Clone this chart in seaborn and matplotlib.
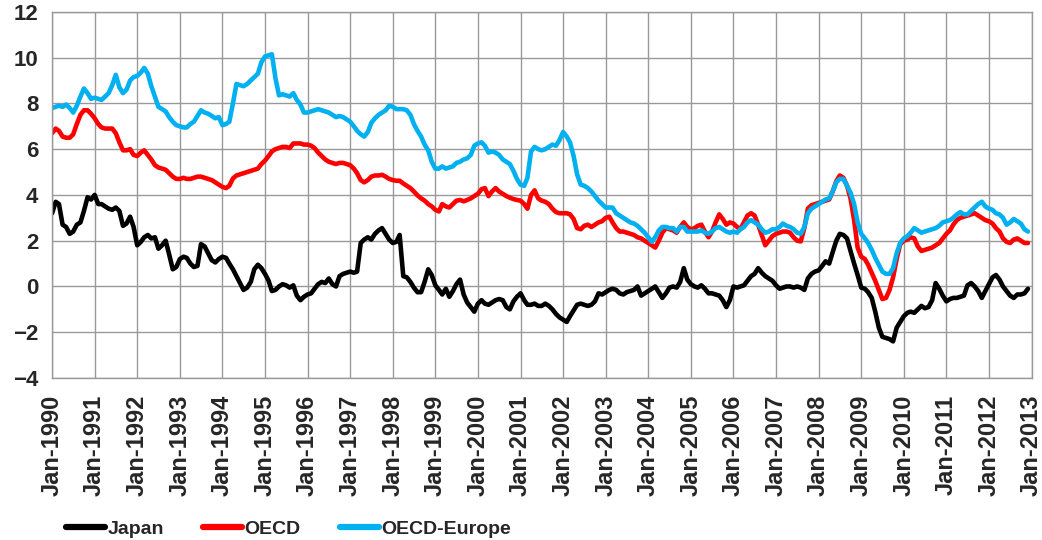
import pandas as pd
import matplotlib.pyplot as plt
import seaborn as sns

# monthly values, Jan-1990 .. Dec-2012
japan = [
    3.2, 3.7, 3.6, 2.7, 2.6, 2.3, 2.4, 2.7, 2.8, 3.3, 3.9, 3.8,
    4.0, 3.6, 3.6, 3.5, 3.4, 3.35, 3.45, 3.3, 2.65, 2.75, 3.05, 2.6,
    1.8, 1.95, 2.15, 2.25, 2.1, 2.15, 1.65, 1.8, 2.0, 1.4, 0.75, 0.85,
    1.2, 1.3, 1.25, 1.0, 0.85, 0.9, 1.85, 1.75, 1.45, 1.15, 1.05, 1.2,
    1.3, 1.25, 1.0, 0.75, 0.45, 0.15, -0.15, -0.05, 0.2, 0.75, 0.95, 0.8,
    0.55, 0.25, -0.2, -0.15, 0.0, 0.1, 0.05, -0.05, 0.05, -0.4, -0.6, -0.45,
    -0.35, -0.3, -0.1, 0.1, 0.2, 0.15, 0.35, 0.1, 0.0, 0.45, 0.55, 0.6,
    0.65, 0.6, 0.65, 1.9, 2.05, 2.15, 2.05, 2.3, 2.45, 2.55, 2.3, 2.05,
    1.9, 1.95, 2.25, 0.45, 0.4, 0.2, -0.05, -0.25, -0.25, 0.2, 0.75, 0.5,
    0.05, -0.15, -0.35, -0.1, -0.45, -0.2, 0.1, 0.3, -0.35, -0.7, -0.9, -1.1,
    -0.75, -0.6, -0.75, -0.8, -0.7, -0.6, -0.55, -0.6, -0.9, -1.0, -0.65, -0.45,
    -0.3, -0.6, -0.8, -0.8, -0.75, -0.85, -0.85, -0.75, -0.85, -1.0, -1.2, -1.35,
    -1.45, -1.55, -1.3, -1.05, -0.8, -0.75, -0.8, -0.85, -0.8, -0.65, -0.3, -0.35,
    -0.25, -0.15, -0.1, -0.15, -0.3, -0.35, -0.25, -0.2, -0.15, 0.0, -0.4, -0.3,
    -0.2, -0.1, 0.0, -0.25, -0.5, -0.3, -0.05, 0.0, -0.05, 0.2, 0.8, 0.3,
    0.1, 0.0, -0.05, 0.05, -0.1, -0.3, -0.3, -0.35, -0.4, -0.6, -0.9, -0.6,
    0.0, -0.05, 0.0, 0.05, 0.25, 0.45, 0.55, 0.8, 0.6, 0.45, 0.35, 0.25,
    0.05, -0.1, -0.05, 0.0, 0.0, -0.05, 0.0, -0.05, -0.15, 0.35, 0.55, 0.65,
    0.7, 0.9, 1.1, 1.0, 1.5, 2.0, 2.3, 2.25, 2.1, 1.55, 1.0, 0.5,
    -0.05, -0.1, -0.25, -0.5, -1.1, -1.8, -2.2, -2.25, -2.3, -2.4, -1.8, -1.55,
    -1.3, -1.15, -1.1, -1.15, -1.0, -0.85, -0.95, -0.9, -0.6, 0.15, -0.1, -0.4,
    -0.65, -0.55, -0.5, -0.5, -0.45, -0.4, 0.05, 0.15, 0.0, -0.2, -0.5, -0.2,
    0.1, 0.4, 0.5, 0.3, 0.0, -0.2, -0.4, -0.5, -0.35, -0.35, -0.3, -0.1,
]
oecd = [
    6.7, 6.9, 6.8, 6.55, 6.5, 6.5, 6.65, 7.1, 7.5, 7.7, 7.7, 7.55,
    7.35, 7.1, 6.95, 6.9, 6.9, 6.9, 6.7, 6.3, 5.95, 5.95, 6.0, 5.75,
    5.7, 5.85, 5.95, 5.75, 5.55, 5.3, 5.2, 5.15, 5.1, 4.95, 4.8, 4.7,
    4.7, 4.75, 4.7, 4.7, 4.75, 4.8, 4.8, 4.75, 4.7, 4.65, 4.55, 4.45,
    4.35, 4.3, 4.4, 4.72, 4.85, 4.9, 4.95, 5.0, 5.05, 5.1, 5.15, 5.35,
    5.5, 5.7, 5.9, 6.0, 6.05, 6.1, 6.1, 6.05, 6.25, 6.25, 6.25, 6.2,
    6.2, 6.15, 6.05, 5.85, 5.7, 5.55, 5.45, 5.4, 5.35, 5.4, 5.4, 5.35,
    5.3, 5.15, 4.95, 4.65, 4.55, 4.65, 4.8, 4.85, 4.85, 4.88, 4.8, 4.7,
    4.65, 4.62, 4.62, 4.5, 4.4, 4.3, 4.15, 3.98, 3.85, 3.75, 3.6, 3.5,
    3.35, 3.28, 3.6, 3.5, 3.45, 3.6, 3.75, 3.78, 3.72, 3.78, 3.85, 3.95,
    4.05, 4.25, 4.3, 3.95, 4.15, 4.3, 4.15, 4.05, 3.95, 3.88, 3.82, 3.78,
    3.75, 3.6, 3.4, 4.0, 4.2, 3.85, 3.75, 3.7, 3.6, 3.4, 3.25, 3.2,
    3.2, 3.2, 3.15, 2.95, 2.55, 2.5, 2.65, 2.7, 2.6, 2.7, 2.8, 2.85,
    3.0, 3.05, 2.8, 2.55, 2.4, 2.4, 2.35, 2.3, 2.25, 2.15, 2.1, 2.0,
    1.9, 1.8, 1.7, 2.0, 2.35, 2.55, 2.5, 2.45, 2.35, 2.6, 2.8, 2.6,
    2.5, 2.55, 2.65, 2.7, 2.4, 2.15, 2.4, 2.8, 3.15, 2.95, 2.7, 2.8,
    2.75, 2.6, 2.5, 2.8, 3.1, 3.2, 3.1, 2.7, 2.25, 1.8, 2.0, 2.2,
    2.3, 2.35, 2.4, 2.4, 2.35, 2.15, 2.0, 1.97, 2.55, 3.4, 3.55, 3.6,
    3.65, 3.7, 3.75, 3.8, 4.15, 4.6, 4.85, 4.75, 4.4, 3.85, 2.9, 1.7,
    1.3, 1.2, 0.95, 0.6, 0.25, -0.15, -0.55, -0.5, -0.15, 0.4, 1.2, 1.85,
    2.0, 2.05, 2.15, 2.1, 1.75, 1.55, 1.6, 1.65, 1.7, 1.8, 1.9, 2.1,
    2.3, 2.45, 2.7, 2.9, 3.0, 3.05, 3.1, 3.15, 3.2, 3.1, 3.0, 2.9,
    2.85, 2.75, 2.55, 2.4, 2.1, 1.95, 1.9, 2.05, 2.1, 2.0, 1.9, 1.9,
]
oecd_europe = [
    7.8, 7.85, 7.9, 7.85, 7.95, 7.8, 7.6, 7.9, 8.3, 8.65, 8.45, 8.2,
    8.25, 8.2, 8.15, 8.3, 8.45, 8.8, 9.25, 8.7, 8.45, 8.6, 9.0, 9.15,
    9.2, 9.35, 9.55, 9.3, 8.75, 8.3, 7.85, 7.75, 7.65, 7.4, 7.2, 7.05,
    7.0, 6.95, 6.95, 7.1, 7.2, 7.45, 7.7, 7.6, 7.55, 7.45, 7.35, 7.4,
    7.05, 7.1, 7.2, 8.0, 8.85, 8.8, 8.75, 8.85, 9.0, 9.15, 9.3, 9.8,
    10.05, 10.1, 10.15, 9.1, 8.35, 8.4, 8.35, 8.3, 8.45, 8.15, 7.95, 7.6,
    7.6, 7.65, 7.7, 7.75, 7.7, 7.65, 7.6, 7.5, 7.4, 7.45, 7.4, 7.3,
    7.2, 7.0, 6.8, 6.65, 6.55, 6.75, 7.15, 7.35, 7.5, 7.6, 7.7, 7.9,
    7.85, 7.75, 7.75, 7.75, 7.7, 7.5, 7.1, 6.8, 6.55, 6.2, 5.95, 5.45,
    5.15, 5.15, 5.25, 5.15, 5.2, 5.25, 5.4, 5.45, 5.55, 5.6, 5.75, 6.15,
    6.25, 6.3, 6.15, 5.85, 5.9, 5.85, 5.75, 5.55, 5.45, 5.35, 5.05, 4.7,
    4.45, 4.4, 4.75, 5.9, 6.1, 6.0, 5.95, 6.0, 6.1, 6.2, 6.15, 6.4,
    6.75, 6.55, 6.3, 5.7, 4.9, 4.45, 4.4, 4.3, 4.15, 3.95, 3.75, 3.6,
    3.45, 3.45, 3.45, 3.2, 3.1, 3.0, 2.9, 2.8, 2.75, 2.65, 2.5, 2.35,
    2.15, 1.95, 2.15, 2.45, 2.6, 2.6, 2.55, 2.55, 2.4, 2.6, 2.6, 2.4,
    2.4, 2.4, 2.4, 2.45, 2.35, 2.3, 2.4, 2.55, 2.6, 2.5, 2.4, 2.35,
    2.4, 2.35, 2.5, 2.6, 2.8, 2.9, 2.8, 2.7, 2.5, 2.35, 2.4, 2.5,
    2.5, 2.6, 2.75, 2.65, 2.6, 2.5, 2.35, 2.3, 2.6, 3.2, 3.4, 3.5,
    3.6, 3.7, 3.8, 3.85, 4.15, 4.55, 4.7, 4.7, 4.4, 4.1, 3.6, 2.8,
    2.3, 2.1, 1.9, 1.6, 1.25, 0.95, 0.65, 0.55, 0.55, 0.8, 1.45, 1.9,
    2.1, 2.2, 2.35, 2.55, 2.45, 2.35, 2.4, 2.45, 2.5, 2.55, 2.65, 2.8,
    2.85, 2.9, 3.0, 3.15, 3.25, 3.15, 3.15, 3.3, 3.45, 3.6, 3.7, 3.5,
    3.4, 3.35, 3.2, 3.15, 3.0, 2.7, 2.8, 2.95, 2.85, 2.75, 2.5, 2.4,
]
series_names = ['Japan', 'OECD', 'OECD-Europe']
colors = ['#000000', '#FF0000', '#00B0F0']
years = list(range(1990, 2014))

months = pd.date_range('1990-01-01', periods=len(japan), freq='MS')
data = pd.DataFrame({'Month': months, 'Japan': japan, 'OECD': oecd, 'OECD-Europe': oecd_europe})
data = data.melt(id_vars='Month', var_name='Series', value_name='Inflation')

sns.set_style('white')
plt.rcParams['font.family'] = ['Liberation Sans', 'DejaVu Sans']
plt.rcParams['font.weight'] = 'bold'

fig, ax = plt.subplots(figsize=(10.42, 5.4), dpi=100)
fig.subplots_adjust(left=0.05, right=0.99, top=0.978, bottom=0.30)

sns.lineplot(data=data, x='Month', y='Inflation', hue='Series', hue_order=series_names,
             palette=colors, linewidth=3.3, ax=ax)

ax.set_xlim(pd.Timestamp('1990-01-01'), pd.Timestamp('2013-01-01'))
ax.set_ylim(-4, 12)
ax.set_yticks(range(-4, 13, 2))
ax.set_xticks([pd.Timestamp(f'{y}-01-01') for y in years])
ax.set_xticklabels([f'Jan-{y}' for y in years], rotation=90, fontsize=17, fontweight='bold')
ax.tick_params(axis='y', labelsize=16, length=6, color='#888888', pad=4)
ax.tick_params(axis='x', length=6, color='#888888', pad=6)
for lab in ax.get_yticklabels():
    lab.set_fontweight('bold')
ax.grid(True, color='#999999', linewidth=1)
ax.set_axisbelow(True)
for sp in ax.spines.values():
    sp.set_color('#999999')
    sp.set_linewidth(1)
ax.set_xlabel('')
ax.set_ylabel('')

leg = ax.legend(loc='lower left', bbox_to_anchor=(0.0, -0.475), ncol=3, frameon=False,
                prop={'size': 14, 'weight': 'bold'}, handlelength=2.0, handletextpad=0.15,
                columnspacing=2.0, borderaxespad=0.3)
for h in leg.get_lines():
    h.set_linewidth(4.5)

plt.savefig('out.png', dpi=100)
plt.close()
